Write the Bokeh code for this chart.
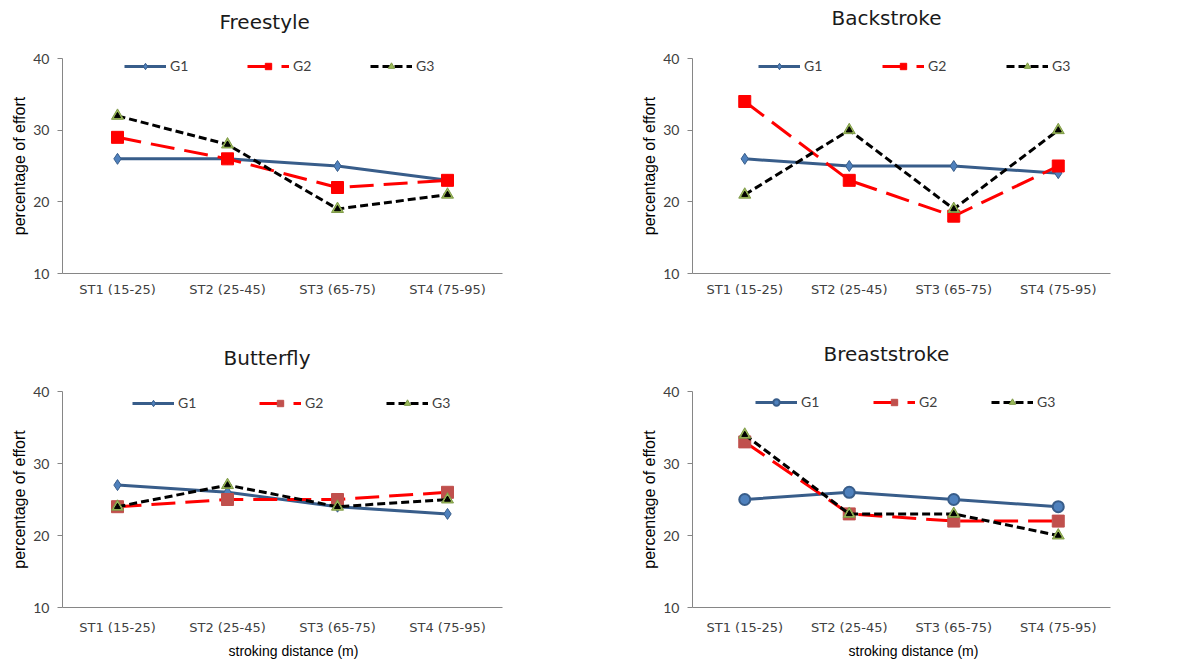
from bokeh.plotting import figure
from bokeh.models import Range1d, FixedTicker, Legend, LegendItem, Title
from bokeh.layouts import column, row
from bokeh.embed import file_html
from bokeh.resources import INLINE

# ---------------- data ----------------
categories = ["ST1 (15-25)", "ST2 (25-45)", "ST3 (65-75)", "ST4 (75-95)"]
y_ticks = [10, 20, 30, 40]
series_names = ["G1", "G2", "G3"]

freestyle_g1 = [26, 26, 25, 23]
freestyle_g2 = [29, 26, 22, 23]
freestyle_g3 = [32, 28, 19, 21]

backstroke_g1 = [26, 25, 25, 24]
backstroke_g2 = [34, 23, 18, 25]
backstroke_g3 = [21, 30, 19, 30]

butterfly_g1 = [27, 26, 24, 23]
butterfly_g2 = [24, 25, 25, 26]
butterfly_g3 = [24, 27, 24, 25]

breaststroke_g1 = [25, 26, 25, 24]
breaststroke_g2 = [33, 23, 22, 22]
breaststroke_g3 = [34, 23, 23, 20]

titles = ["Freestyle", "Backstroke", "Butterfly", "Breaststroke"]
y_label = "percentage of effort"
x_label = "stroking distance  (m)"

# ---------------- styling ----------------
BLUE_LINE = "#385D8A"
BLUE_FILL = "#4F81BD"
TICK_COLOR = "#404040"
AXIS_COLOR = "#868686"


def build(title, g1, g2, g3, width, height, mb, title_offset, spacer_h,
          legend_loc, legend_spacing, cat_standoff, g1_marker, g2_fill,
          xlabel_offset=None):
    p = figure(x_range=categories, y_range=Range1d(10, 40), title=None,
               width=width, height=height, output_backend="svg",
               toolbar_location=None,
               min_border_left=mb[0], min_border_right=mb[1],
               min_border_top=mb[2], min_border_bottom=mb[3])
    p.outline_line_color = None
    p.xgrid.grid_line_color = None
    p.ygrid.grid_line_color = None
    p.background_fill_color = "white"
    p.border_fill_color = "white"

    # spacer between frame and title (nearest to frame), then the title
    spacer = Title(text=" ", text_font_size="2px", standoff=spacer_h - 5,
                   text_color="white")
    p.add_layout(spacer, "above")
    t = Title(text=title, align="left", offset=title_offset, standoff=0,
              text_font="DejaVu Sans", text_font_size="20px",
              text_font_style="normal", text_color="#1a1a1a")
    p.add_layout(t, "above")

    # y axis
    p.yaxis.ticker = FixedTicker(ticks=y_ticks)
    p.yaxis.minor_tick_line_color = None
    p.yaxis.major_tick_out = 5
    p.yaxis.major_tick_in = 0
    p.yaxis.axis_line_color = AXIS_COLOR
    p.yaxis.major_tick_line_color = AXIS_COLOR
    p.yaxis.major_label_text_font = "Lato"
    p.yaxis.major_label_text_font_size = "14px"
    p.yaxis.major_label_text_color = TICK_COLOR
    p.yaxis.major_label_standoff = 8
    p.yaxis.axis_label = y_label
    p.yaxis.axis_label_text_font = "Liberation Sans"
    p.yaxis.axis_label_text_font_size = "16px"
    p.yaxis.axis_label_text_font_style = "normal"
    p.yaxis.axis_label_text_color = "#000000"
    p.yaxis.axis_label_standoff = 2

    # x axis
    p.xaxis.major_tick_out = 0
    p.xaxis.major_tick_in = 0
    p.xaxis.axis_line_color = AXIS_COLOR
    p.xaxis.major_label_text_font = "DejaVu Sans"
    p.xaxis.major_label_text_font_size = "13px"
    p.xaxis.major_label_text_color = TICK_COLOR
    p.xaxis.major_label_standoff = cat_standoff
    if xlabel_offset is not None:
        xt = Title(text=x_label, align="left", offset=xlabel_offset,
                   standoff=6, text_font="Liberation Sans",
                   text_font_size="14px", text_font_style="normal",
                   text_color="#000000")
        p.add_layout(xt, "below")

    # G1
    l1 = p.line(categories, g1, line_color=BLUE_LINE, line_width=3)
    if g1_marker == "circle":
        m1 = p.scatter(categories, g1, marker="circle", size=11,
                       fill_color=BLUE_FILL, line_color=BLUE_LINE, line_width=2)
    else:
        m1 = p.scatter(categories, g1, marker="diamond", size=11,
                       fill_color=BLUE_FILL, line_color=BLUE_LINE, line_width=1)
    # G2
    l2 = p.line(categories, g2, line_color="#FF0000", line_width=3,
                line_dash="24 10")
    m2 = p.scatter(categories, g2, marker="square", size=12,
                   fill_color=g2_fill, line_color=g2_fill, line_width=1)
    # G3
    l3 = p.line(categories, g3, line_color="#000000", line_width=3,
                line_dash="8 4")
    m3 = p.scatter(categories, g3, marker="triangle", size=12,
                   fill_color="#9BBB59", line_color="#7F9A48", line_width=1)
    p.scatter(categories, g3, marker="triangle", size=6,
              fill_color="#000000", line_color="#000000")

    legend = Legend(items=[LegendItem(label=series_names[0], renderers=[l1, m1]),
                           LegendItem(label=series_names[1], renderers=[l2, m2]),
                           LegendItem(label=series_names[2], renderers=[l3, m3])],
                    orientation="horizontal", location=legend_loc,
                    glyph_width=42, glyph_height=16, label_height=16,
                    label_standoff=4, spacing=legend_spacing,
                    padding=0, margin=0, border_line_color=None,
                    background_fill_alpha=0,
                    label_text_font="Lato", label_text_font_size="14px",
                    label_text_color=TICK_COLOR)
    p.add_layout(legend)
    return p


# column 1: x 0..608, frame 62..502 ; column 2: x 608..1179, frame 692..1110
# row 1: y 0..325, frame 58..273 ; row 2: y 325..661, frame 391..607
p1 = build(titles[0], freestyle_g1, freestyle_g2, freestyle_g3,
           608, 325, (62, 106, 58, 52), 157, 26, (62, 199), 57, 8,
           "diamond", "#FF0000")
p2 = build(titles[1], backstroke_g1, backstroke_g2, backstroke_g3,
           571, 325, (84, 69, 58, 52), 139, 30, (66, 199), 58, 8,
           "diamond", "#FF0000")
p3 = build(titles[2], butterfly_g1, butterfly_g2, butterfly_g3,
           608, 336, (62, 106, 66, 54), 161, 23, (70, 196), 61, 12,
           "diamond", "#C0504D", xlabel_offset=166)
p4 = build(titles[3], breaststroke_g1, breaststroke_g2, breaststroke_g3,
           571, 336, (84, 69, 66, 54), 131, 27, (63, 197), 52, 12,
           "circle", "#C0504D", xlabel_offset=156)

layout = column(row(p1, p2), row(p3, p4))

with open("out.html", "w") as f:
    f.write(file_html(layout, INLINE))
